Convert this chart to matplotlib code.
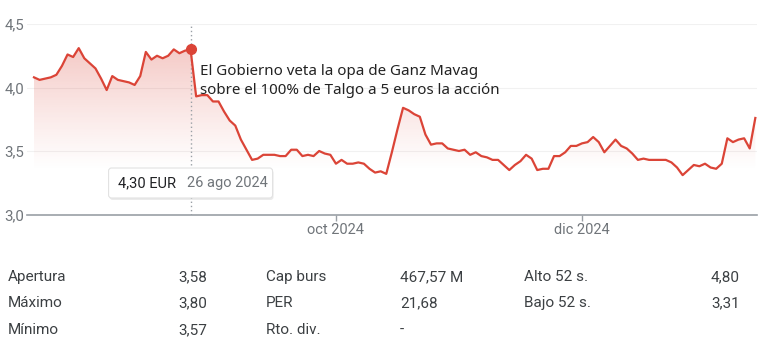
import numpy as np
import matplotlib.pyplot as plt
from matplotlib.patches import FancyBboxPatch
from matplotlib.colors import to_rgb

# Precio de cierre diario (EUR), sesiones consecutivas desde mediados de julio 2024
prices = [4.08, 4.06, 4.07, 4.08, 4.10, 4.17, 4.26, 4.24, 4.31, 4.23,
          4.19, 4.15, 4.07, 3.98, 4.09, 4.06, 4.05, 4.04, 4.02, 4.09,
          4.28, 4.22, 4.25, 4.23, 4.25, 4.30, 4.27, 4.29, 4.30, 3.93,
          3.94, 3.94, 3.89, 3.89, 3.81, 3.74, 3.70, 3.59, 3.51, 3.43,
          3.44, 3.47, 3.47, 3.47, 3.46, 3.46, 3.51, 3.51, 3.46, 3.47,
          3.46, 3.50, 3.48, 3.47, 3.40, 3.43, 3.40, 3.40, 3.41, 3.40,
          3.36, 3.33, 3.34, 3.32, 3.49, 3.67, 3.84, 3.82, 3.79, 3.77,
          3.63, 3.55, 3.56, 3.56, 3.52, 3.51, 3.50, 3.51, 3.47, 3.49,
          3.46, 3.45, 3.43, 3.43, 3.39, 3.35, 3.39, 3.42, 3.47, 3.44,
          3.35, 3.36, 3.36, 3.46, 3.46, 3.49, 3.54, 3.54, 3.56, 3.57,
          3.61, 3.57, 3.49, 3.54, 3.59, 3.54, 3.52, 3.48, 3.43, 3.44,
          3.43, 3.43, 3.43, 3.43, 3.41, 3.37, 3.31, 3.35, 3.39, 3.38,
          3.40, 3.37, 3.36, 3.40, 3.60, 3.57, 3.59, 3.60, 3.52, 3.76]

month_ticks = [54, 98]
month_labels = ["oct 2024", "dic 2024"]
y_ticks = [3.0, 3.5, 4.0, 4.5]
y_labels = ["3,0", "3,5", "4,0", "4,5"]

hover_idx = 28
hover_price = "4,30 EUR"
hover_date = "26 ago 2024"
news = "El Gobierno veta la opa de Ganz Mavag\nsobre el 100% de Talgo a 5 euros la acción"

stats_col1 = [("Apertura", "3,58"), ("Máximo", "3,80"), ("Mínimo", "3,57")]
stats_col2 = [("Cap burs", "467,57 M"), ("PER", "21,68"), ("Rto. div.", "-")]
stats_col3 = [("Alto 52 s.", "4,80"), ("Bajo 52 s.", "3,31")]

RED = "#db4437"
GRAY = "#70757a"

plt.rcParams['font.family'] = ['Roboto', 'DejaVu Sans']

fig = plt.figure(figsize=(7.68, 3.51), dpi=100)
ax = fig.add_axes([27 / 768, 1 - 214.5 / 351, 730 / 768, 190.5 / 351])

x = np.arange(len(prices))
y = np.array(prices)

ax.set_xlim(-1.25, 129.3)
ax.set_ylim(3.0, 4.5)

# gradient fill under the line
rgb = to_rgb(RED)
ys = np.linspace(3.0, 4.5, 300)
alpha = np.clip((ys - 3.35) / (4.31 - 3.35), 0, None) ** 1.1 * 0.28
img = np.zeros((len(ys), 2, 4))
img[..., 0], img[..., 1], img[..., 2] = rgb
img[..., 3] = alpha[:, None]
fill = ax.fill_between(x, y, 3.0, color='none', lw=0)
im = ax.imshow(img, extent=[x[0], x[-1], 3.0, 4.5], origin='lower',
               aspect='auto', zorder=1)
im.set_clip_path(fill.get_paths()[0], transform=ax.transData)

ax.plot(x, y, color=RED, lw=1.6, zorder=3, solid_joinstyle='round')

# grid and axes
for v in y_ticks[1:]:
    ax.axhline(v, color='#f1f1f1', lw=0.8, zorder=0)
for s in ['top', 'right', 'left']:
    ax.spines[s].set_visible(False)
ax.spines['bottom'].set_color('#9aa0a6')
ax.spines['bottom'].set_linewidth(1.2)

ax.set_yticks(y_ticks)
ax.set_yticklabels(y_labels)
ax.tick_params(axis='y', length=0, pad=2, labelsize=10.8, labelcolor=GRAY)
ax.set_xticks(month_ticks)
ax.set_xticklabels(month_labels)
ax.tick_params(axis='x', length=4, width=1, color='#9aa0a6', pad=2,
               labelsize=10.5, labelcolor=GRAY)

# hover marker and dotted guide
ax.axvline(hover_idx, color='#9aa0a6', lw=1, ls=(0, (1, 2)), zorder=2)
ax.plot(hover_idx, prices[hover_idx], 'o', color=RED, ms=7, zorder=4)

ax.annotate(news, xy=(hover_idx, prices[hover_idx]), xytext=(7, -10.5),
            textcoords='offset points', ha='left', va='top', fontsize=10.9,
            family=['Noto Sans', 'DejaVu Sans'], color='#222222',
            linespacing=1.35, zorder=5)

# tooltip box
fig.canvas.draw()
px, py = ax.transData.transform((hover_idx, 3.0))
shadow = FancyBboxPatch((px - 82 + 1, py + 16.5 - 2), 164, 30,
                        boxstyle="round,pad=0,rounding_size=3",
                        transform=None, fc='#000000', alpha=0.08, ec='none',
                        zorder=6)
box = FancyBboxPatch((px - 82, py + 16.5), 164, 30,
                     boxstyle="round,pad=0,rounding_size=3",
                     transform=None, fc='white', ec='#e2e2e2', lw=0.8,
                     zorder=7)
fig.patches.extend([shadow, box])
fig.text((px - 73) / 768, (py + 31.5) / 351, hover_price, ha='left',
         va='center', fontsize=10.5, color='#202124', zorder=8)
fig.text((px - 4) / 768, (py + 31.5) / 351, hover_date, ha='left',
         va='center', fontsize=10.5, color=GRAY, zorder=8)

# stats table
row_y = [277, 303, 330]
cols = [(stats_col1, 8, 178), (stats_col2, 266, 400), (stats_col3, 524, 711)]
for items, xl, xv in cols:
    for (lab, val), ry in zip(items, row_y):
        fig.text(xl / 768, 1 - ry / 351, lab, ha='left', va='center',
                 fontsize=11, color='#3c4043')
        fig.text(xv / 768, 1 - ry / 351, val, ha='left', va='center',
                 fontsize=11, color='#3c4043')

fig.savefig('out.png', dpi=100)
